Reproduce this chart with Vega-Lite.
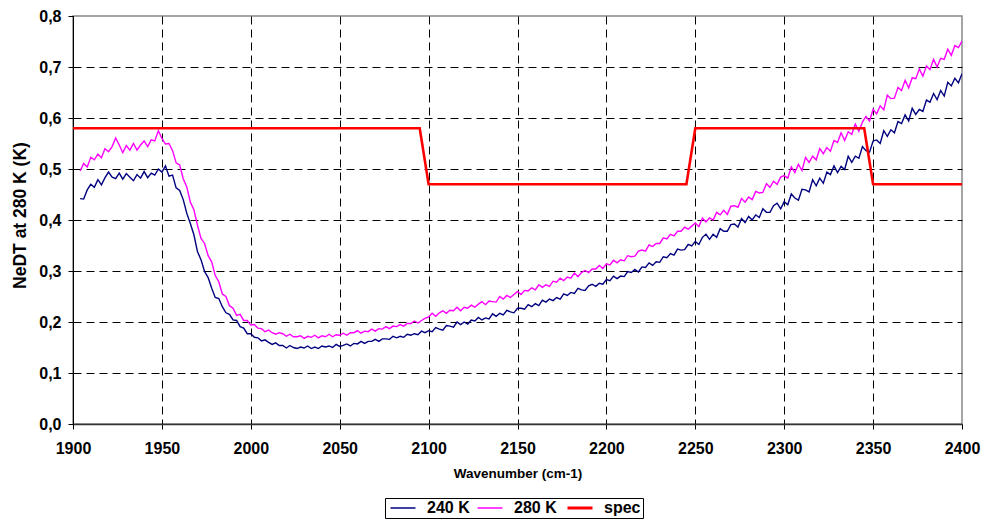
{
"$schema": "https://vega.github.io/schema/vega-lite/v6.json",
"width": 889, "height": 408,
"autosize": {"type": "none"},
"padding": {"left": 73, "top": 16, "right": 20, "bottom": 98},
"background": "white",
"config": {
  "font": "Liberation Sans",
  "view": {"stroke": "#888888", "strokeWidth": 1.5},
  "axis": {"labelFont": "Liberation Sans", "labelFontWeight": "bold", "labelFontSize": 16, "labelColor": "black", "titleFont": "Liberation Sans", "titleFontWeight": "bold", "titleColor": "black", "tickColor": "black", "tickSize": 5, "gridColor": "black", "gridDash": [8, 5], "gridWidth": 1, "labelFlush": false}
},
"datasets": {
  "curves": [
{"wn":1904,"k240":0.442,"k280":0.496},{"wn":1906,"k240":0.441,"k280":0.511},{"wn":1908,"k240":0.459,"k280":0.504},{"wn":1910,"k240":0.470,"k280":0.523},
{"wn":1912,"k240":0.464,"k280":0.518},{"wn":1914,"k240":0.479,"k280":0.529},{"wn":1916,"k240":0.469,"k280":0.522},{"wn":1918,"k240":0.483,"k280":0.540},
{"wn":1920,"k240":0.494,"k280":0.534},{"wn":1922,"k240":0.484,"k280":0.544},{"wn":1924,"k240":0.481,"k280":0.561},{"wn":1926,"k240":0.492,"k280":0.547},
{"wn":1928,"k240":0.480,"k280":0.532},{"wn":1930,"k240":0.491,"k280":0.546},{"wn":1932,"k240":0.484,"k280":0.537},{"wn":1934,"k240":0.477,"k280":0.550},
{"wn":1936,"k240":0.489,"k280":0.537},{"wn":1938,"k240":0.482,"k280":0.547},{"wn":1940,"k240":0.495,"k280":0.555},{"wn":1942,"k240":0.483,"k280":0.544},
{"wn":1944,"k240":0.492,"k280":0.557},{"wn":1946,"k240":0.488,"k280":0.555},{"wn":1948,"k240":0.500,"k280":0.575},{"wn":1950,"k240":0.494,"k280":0.560},
{"wn":1952,"k240":0.506,"k280":0.549},{"wn":1954,"k240":0.486,"k280":0.550},{"wn":1956,"k240":0.488,"k280":0.536},{"wn":1958,"k240":0.463,"k280":0.512},
{"wn":1960,"k240":0.458,"k280":0.508},{"wn":1962,"k240":0.440,"k280":0.481},{"wn":1964,"k240":0.413,"k280":0.465},{"wn":1966,"k240":0.393,"k280":0.435},
{"wn":1968,"k240":0.371,"k280":0.420},{"wn":1970,"k240":0.338,"k280":0.390},{"wn":1972,"k240":0.322,"k280":0.364},{"wn":1974,"k240":0.299,"k280":0.354},
{"wn":1976,"k240":0.287,"k280":0.330},{"wn":1978,"k240":0.266,"k280":0.318},{"wn":1980,"k240":0.248,"k280":0.291},{"wn":1982,"k240":0.246,"k280":0.279},
{"wn":1984,"k240":0.230,"k280":0.255},{"wn":1986,"k240":0.218,"k280":0.250},{"wn":1988,"k240":0.215,"k280":0.232},{"wn":1990,"k240":0.204,"k280":0.227},
{"wn":1992,"k240":0.203,"k280":0.213},{"wn":1994,"k240":0.191,"k280":0.215},{"wn":1996,"k240":0.188,"k280":0.203},{"wn":1998,"k240":0.177,"k280":0.203},
{"wn":2000,"k240":0.177,"k280":0.194},{"wn":2002,"k240":0.170,"k280":0.195},{"wn":2004,"k240":0.169,"k280":0.188},{"wn":2006,"k240":0.163,"k280":0.187},
{"wn":2008,"k240":0.165,"k280":0.181},{"wn":2010,"k240":0.160,"k280":0.184},{"wn":2012,"k240":0.156,"k280":0.179},{"wn":2014,"k240":0.159,"k280":0.176},
{"wn":2016,"k240":0.154,"k280":0.179},{"wn":2018,"k240":0.154,"k280":0.177},{"wn":2020,"k240":0.149,"k280":0.172},{"wn":2022,"k240":0.154,"k280":0.176},
{"wn":2024,"k240":0.150,"k280":0.171},{"wn":2026,"k240":0.148,"k280":0.171},{"wn":2028,"k240":0.151,"k280":0.173},{"wn":2030,"k240":0.149,"k280":0.168},
{"wn":2032,"k240":0.153,"k280":0.172},{"wn":2034,"k240":0.148,"k280":0.170},{"wn":2036,"k240":0.151,"k280":0.174},{"wn":2038,"k240":0.148,"k280":0.169},
{"wn":2040,"k240":0.153,"k280":0.173},{"wn":2042,"k240":0.151,"k280":0.171},{"wn":2044,"k240":0.153,"k280":0.176},{"wn":2046,"k240":0.150,"k280":0.171},
{"wn":2048,"k240":0.156,"k280":0.175},{"wn":2050,"k240":0.152,"k280":0.174},{"wn":2052,"k240":0.154,"k280":0.178},{"wn":2054,"k240":0.157,"k280":0.174},
{"wn":2056,"k240":0.153,"k280":0.179},{"wn":2058,"k240":0.158,"k280":0.179},{"wn":2060,"k240":0.157,"k280":0.183},{"wn":2062,"k240":0.162,"k280":0.178},
{"wn":2064,"k240":0.158,"k280":0.182},{"wn":2066,"k240":0.162,"k280":0.181},{"wn":2068,"k240":0.162,"k280":0.186},{"wn":2070,"k240":0.166,"k280":0.182},
{"wn":2072,"k240":0.162,"k280":0.187},{"wn":2074,"k240":0.167,"k280":0.186},{"wn":2076,"k240":0.167,"k280":0.191},{"wn":2078,"k240":0.166,"k280":0.187},
{"wn":2080,"k240":0.172,"k280":0.192},{"wn":2082,"k240":0.169,"k280":0.191},{"wn":2084,"k240":0.172,"k280":0.195},{"wn":2086,"k240":0.170,"k280":0.192},
{"wn":2088,"k240":0.176,"k280":0.197},{"wn":2090,"k240":0.174,"k280":0.197},{"wn":2092,"k240":0.177,"k280":0.202},{"wn":2094,"k240":0.175,"k280":0.198},
{"wn":2096,"k240":0.182,"k280":0.203},{"wn":2098,"k240":0.179,"k280":0.207},{"wn":2100,"k240":0.183,"k280":0.210},{"wn":2102,"k240":0.181,"k280":0.217},
{"wn":2104,"k240":0.189,"k280":0.211},{"wn":2106,"k240":0.186,"k280":0.218},{"wn":2108,"k240":0.184,"k280":0.222},{"wn":2110,"k240":0.193,"k280":0.217},
{"wn":2112,"k240":0.192,"k280":0.223},{"wn":2114,"k240":0.190,"k280":0.222},{"wn":2116,"k240":0.200,"k280":0.229},{"wn":2118,"k240":0.195,"k280":0.222},
{"wn":2120,"k240":0.200,"k280":0.229},{"wn":2122,"k240":0.196,"k280":0.227},{"wn":2124,"k240":0.204,"k280":0.233},{"wn":2126,"k240":0.202,"k280":0.229},
{"wn":2128,"k240":0.209,"k280":0.235},{"wn":2130,"k240":0.204,"k280":0.240},{"wn":2132,"k240":0.208,"k280":0.234},{"wn":2134,"k240":0.206,"k280":0.241},
{"wn":2136,"k240":0.216,"k280":0.240},{"wn":2138,"k240":0.211,"k280":0.239},{"wn":2140,"k240":0.217,"k280":0.250},{"wn":2142,"k240":0.214,"k280":0.245},
{"wn":2144,"k240":0.223,"k280":0.252},{"wn":2146,"k240":0.220,"k280":0.248},{"wn":2148,"k240":0.218,"k280":0.254},{"wn":2150,"k240":0.227,"k280":0.260},
{"wn":2152,"k240":0.227,"k280":0.254},{"wn":2154,"k240":0.225,"k280":0.262},{"wn":2156,"k240":0.234,"k280":0.261},{"wn":2158,"k240":0.230,"k280":0.267},
{"wn":2160,"k240":0.236,"k280":0.263},{"wn":2162,"k240":0.232,"k280":0.273},{"wn":2164,"k240":0.243,"k280":0.268},{"wn":2166,"k240":0.239,"k280":0.273},
{"wn":2168,"k240":0.245,"k280":0.270},{"wn":2170,"k240":0.242,"k280":0.280},{"wn":2172,"k240":0.248,"k280":0.278},{"wn":2174,"k240":0.245,"k280":0.286},
{"wn":2176,"k240":0.255,"k280":0.281},{"wn":2178,"k240":0.252,"k280":0.288},{"wn":2180,"k240":0.258,"k280":0.286},{"wn":2182,"k240":0.256,"k280":0.296},
{"wn":2184,"k240":0.266,"k280":0.289},{"wn":2186,"k240":0.263,"k280":0.297},{"wn":2188,"k240":0.262,"k280":0.301},{"wn":2190,"k240":0.271,"k280":0.297},
{"wn":2192,"k240":0.274,"k280":0.304},{"wn":2194,"k240":0.270,"k280":0.304},{"wn":2196,"k240":0.276,"k280":0.311},{"wn":2198,"k240":0.274,"k280":0.305},
{"wn":2200,"k240":0.283,"k280":0.314},{"wn":2202,"k240":0.281,"k280":0.312},{"wn":2204,"k240":0.290,"k280":0.321},{"wn":2206,"k240":0.285,"k280":0.316},
{"wn":2208,"k240":0.290,"k280":0.322},{"wn":2210,"k240":0.289,"k280":0.320},{"wn":2212,"k240":0.299,"k280":0.330},{"wn":2214,"k240":0.297,"k280":0.328},
{"wn":2216,"k240":0.303,"k280":0.329},{"wn":2218,"k240":0.298,"k280":0.339},{"wn":2220,"k240":0.308,"k280":0.341},{"wn":2222,"k240":0.307,"k280":0.339},
{"wn":2224,"k240":0.316,"k280":0.351},{"wn":2226,"k240":0.311,"k280":0.348},{"wn":2228,"k240":0.318,"k280":0.354},{"wn":2230,"k240":0.317,"k280":0.354},
{"wn":2232,"k240":0.328,"k280":0.365},{"wn":2234,"k240":0.326,"k280":0.363},{"wn":2236,"k240":0.334,"k280":0.372},{"wn":2238,"k240":0.331,"k280":0.369},
{"wn":2240,"k240":0.343,"k280":0.378},{"wn":2242,"k240":0.341,"k280":0.378},{"wn":2244,"k240":0.342,"k280":0.386},{"wn":2246,"k240":0.352,"k280":0.382},
{"wn":2248,"k240":0.349,"k280":0.388},{"wn":2250,"k240":0.358,"k280":0.394},{"wn":2252,"k240":0.352,"k280":0.387},{"wn":2254,"k240":0.366,"k280":0.404},
{"wn":2256,"k240":0.372,"k280":0.396},{"wn":2258,"k240":0.362,"k280":0.404},{"wn":2260,"k240":0.372,"k280":0.400},{"wn":2262,"k240":0.366,"k280":0.415},
{"wn":2264,"k240":0.383,"k280":0.410},{"wn":2266,"k240":0.378,"k280":0.419},{"wn":2268,"k240":0.378,"k280":0.411},{"wn":2270,"k240":0.391,"k280":0.427},
{"wn":2272,"k240":0.392,"k280":0.428},{"wn":2274,"k240":0.386,"k280":0.425},{"wn":2276,"k240":0.403,"k280":0.442},{"wn":2278,"k240":0.395,"k280":0.435},
{"wn":2280,"k240":0.407,"k280":0.445},{"wn":2282,"k240":0.400,"k280":0.440},{"wn":2284,"k240":0.410,"k280":0.456},{"wn":2286,"k240":0.405,"k280":0.453},
{"wn":2288,"k240":0.422,"k280":0.454},{"wn":2290,"k240":0.415,"k280":0.471},{"wn":2292,"k240":0.415,"k280":0.464},{"wn":2294,"k240":0.428,"k280":0.476},
{"wn":2296,"k240":0.433,"k280":0.470},{"wn":2298,"k240":0.422,"k280":0.484},{"wn":2300,"k240":0.436,"k280":0.487},{"wn":2302,"k240":0.430,"k280":0.482},
{"wn":2304,"k240":0.451,"k280":0.504},{"wn":2306,"k240":0.443,"k280":0.493},{"wn":2308,"k240":0.439,"k280":0.509},{"wn":2310,"k240":0.460,"k280":0.497},
{"wn":2312,"k240":0.459,"k280":0.523},{"wn":2314,"k240":0.455,"k280":0.513},{"wn":2316,"k240":0.479,"k280":0.525},{"wn":2318,"k240":0.467,"k280":0.518},
{"wn":2320,"k240":0.482,"k280":0.540},{"wn":2322,"k240":0.472,"k280":0.530},{"wn":2324,"k240":0.494,"k280":0.542},{"wn":2326,"k240":0.489,"k280":0.535},
{"wn":2328,"k240":0.506,"k280":0.556},{"wn":2330,"k240":0.493,"k280":0.552},{"wn":2332,"k240":0.505,"k280":0.571},{"wn":2334,"k240":0.499,"k280":0.556},
{"wn":2336,"k240":0.525,"k280":0.573},{"wn":2338,"k240":0.513,"k280":0.568},{"wn":2340,"k240":0.525,"k280":0.588},{"wn":2342,"k240":0.521,"k280":0.574},
{"wn":2344,"k240":0.544,"k280":0.592},{"wn":2346,"k240":0.536,"k280":0.603},{"wn":2348,"k240":0.533,"k280":0.594},{"wn":2350,"k240":0.555,"k280":0.617},
{"wn":2352,"k240":0.557,"k280":0.608},{"wn":2354,"k240":0.550,"k280":0.624},{"wn":2356,"k240":0.575,"k280":0.616},{"wn":2358,"k240":0.564,"k280":0.645},
{"wn":2360,"k240":0.577,"k280":0.638},{"wn":2362,"k240":0.571,"k280":0.639},{"wn":2364,"k240":0.593,"k280":0.660},{"wn":2366,"k240":0.589,"k280":0.654},
{"wn":2368,"k240":0.606,"k280":0.674},{"wn":2370,"k240":0.594,"k280":0.659},{"wn":2372,"k240":0.619,"k280":0.679},{"wn":2374,"k240":0.607,"k280":0.677},
{"wn":2376,"k240":0.617,"k280":0.696},{"wn":2378,"k240":0.613,"k280":0.682},{"wn":2380,"k240":0.635,"k280":0.702},{"wn":2382,"k240":0.631,"k280":0.695},
{"wn":2384,"k240":0.648,"k280":0.715},{"wn":2386,"k240":0.636,"k280":0.700},{"wn":2388,"k240":0.654,"k280":0.717},{"wn":2390,"k240":0.643,"k280":0.715},
{"wn":2392,"k240":0.670,"k280":0.735},{"wn":2394,"k240":0.663,"k280":0.723},{"wn":2396,"k240":0.678,"k280":0.742},{"wn":2398,"k240":0.669,"k280":0.738},
{"wn":2400,"k240":0.687,"k280":0.751}
  ],
  "spec": [
{"wn":1900,"v":0.58,"series":"spec"},{"wn":2095,"v":0.58,"series":"spec"},{"wn":2100,"v":0.47,"series":"spec"},{"wn":2245,"v":0.47,"series":"spec"},
{"wn":2250,"v":0.58,"series":"spec"},{"wn":2345,"v":0.58,"series":"spec"},{"wn":2350,"v":0.47,"series":"spec"},{"wn":2400,"v":0.47,"series":"spec"}
  ]
},
"encoding": {
  "x": {"field": "wn", "type": "quantitative", "scale": {"domain": [1900, 2400], "nice": false, "zero": false},
        "axis": {"values": [1900,1950,2000,2050,2100,2150,2200,2250,2300,2350,2400], "format": "d", "title": "Wavenumber (cm-1)", "titleFontSize": 13.5, "titleY": 53, "titleBaseline": "alphabetic", "labelPadding": 11, "domainColor": "#333333", "domainWidth": 1.5,
                 "gridOpacity": {"condition": {"test": "datum.value > 2399", "value": 0}, "value": 1}}},
  "y": {"field": "v", "type": "quantitative", "scale": {"domain": [0, 0.8], "nice": false},
        "axis": {"values": [0,0.1,0.2,0.3,0.4,0.5,0.6,0.7,0.8], "labelExpr": "replace(format(datum.value,'.1f'),'.',',')", "title": "NeDT at 280 K (K)", "titleFontSize": 17.5, "titleX": -48, "titleY": 199, "titleBaseline": "alphabetic", "labelPadding": 7, "domainColor": "black", "domainWidth": 1,
                 "gridOpacity": {"condition": {"test": "datum.value > 0.79", "value": 0}, "value": 1}}},
  "color": {"field": "series", "type": "nominal", "scale": {"domain": ["k240","k280","spec"], "range": ["#000080","#ff00ff","#ff0000"]},
            "legend": {"title": null, "orient": "none", "legendX": 312, "legendY": 482, "direction": "horizontal", "symbolType": "stroke", "symbolSize": 625, "symbolOffset": 8, "labelFont": "Liberation Sans", "labelFontWeight": "bold", "labelFontSize": 16, "labelColor": "black", "strokeColor": "black", "padding": 2, "columnPadding": 4, "labelOffset": 16,
                       "labelExpr": "datum.label == 'k240' ? '240 K' : datum.label == 'k280' ? '280 K' : 'spec'",
                       "encode": {"symbols": {"update": {"strokeWidth": {"signal": "datum.value == 'spec' ? 3 : 1.5"}}}}}}
},
"layer": [
  {"data": {"name": "curves"}, "transform": [{"fold": ["k240","k280"], "as": ["series","v"]}], "mark": {"type": "line", "clip": true, "strokeWidth": 1.4}},
  {"data": {"name": "spec"}, "mark": {"type": "line", "clip": true, "strokeWidth": 2.6}}
]
}
